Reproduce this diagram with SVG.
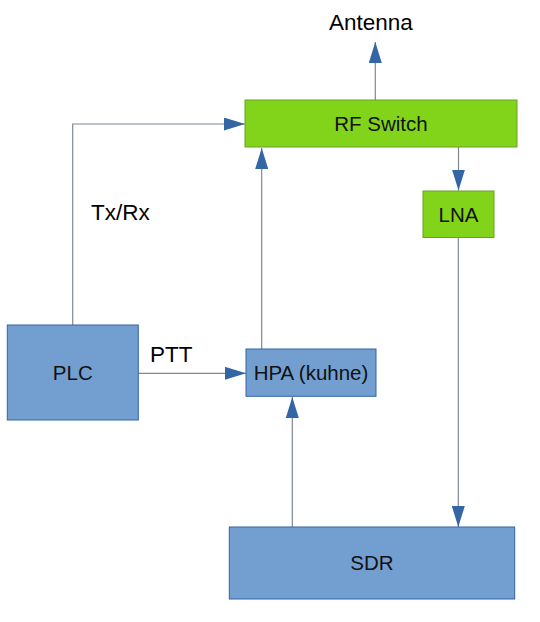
<svg xmlns="http://www.w3.org/2000/svg" width="540" height="622" viewBox="0 0 540 622">
<style>
.green{fill:#81d41a;stroke:#6a9f2a;stroke-width:1}
.blue{fill:#729fcf;stroke:#3465a4;stroke-width:1}
.nt{font-family:"Liberation Sans",Arial,sans-serif;font-size:20.5px;fill:#111;text-anchor:middle}
.lt{font-family:"Liberation Sans",Arial,sans-serif;font-size:22.5px;fill:#000}
.c{fill:none;stroke:#7f8892;stroke-width:1.2}
</style>
<defs>
<marker id="ah" viewBox="0 0 21 13" refX="21" refY="6.5" markerWidth="21" markerHeight="13" markerUnits="userSpaceOnUse" orient="auto">
<path d="M0,0 L21,6.5 L0,13 Z" fill="#3465a4"/>
</marker>
</defs>
<g id="connectors">
<path class="c" d="M375.3,100 V42" marker-end="url(#ah)"/>
<path class="c" d="M72.7,325 V124 H245" marker-end="url(#ah)"/>
<path class="c" d="M261.7,349 V148" marker-end="url(#ah)"/>
<path class="c" d="M458.5,147 V190.5" marker-end="url(#ah)"/>
<path class="c" d="M458.3,237.5 V527" marker-end="url(#ah)"/>
<path class="c" d="M138.3,373.3 H246" marker-end="url(#ah)"/>
<path class="c" d="M292.3,527 V397" marker-end="url(#ah)"/>
</g>
<g id="antenna"><text class="lt" x="329" y="29.5">Antenna</text></g>
<g id="txrx"><text class="lt" x="91" y="219.5">Tx/Rx</text></g>
<g id="ptt"><text class="lt" x="150" y="361.5">PTT</text></g>
<g id="rfswitch">
<rect class="green" x="245" y="100" width="272" height="47"/>
<text class="nt" x="381" y="131">RF Switch</text>
</g>
<g id="lna">
<rect class="green" x="423" y="191" width="71" height="46.5"/>
<text class="nt" x="458.5" y="222">LNA</text>
</g>
<g id="plc">
<rect class="blue" x="7.3" y="325" width="131" height="95"/>
<text class="nt" x="72.8" y="380">PLC</text>
</g>
<g id="hpa">
<rect class="blue" x="246" y="349" width="130" height="47.3"/>
<text class="nt" x="311" y="380">HPA (kuhne)</text>
</g>
<g id="sdr">
<rect class="blue" x="229.3" y="527" width="285.4" height="72"/>
<text class="nt" x="372" y="570">SDR</text>
</g>
</svg>
